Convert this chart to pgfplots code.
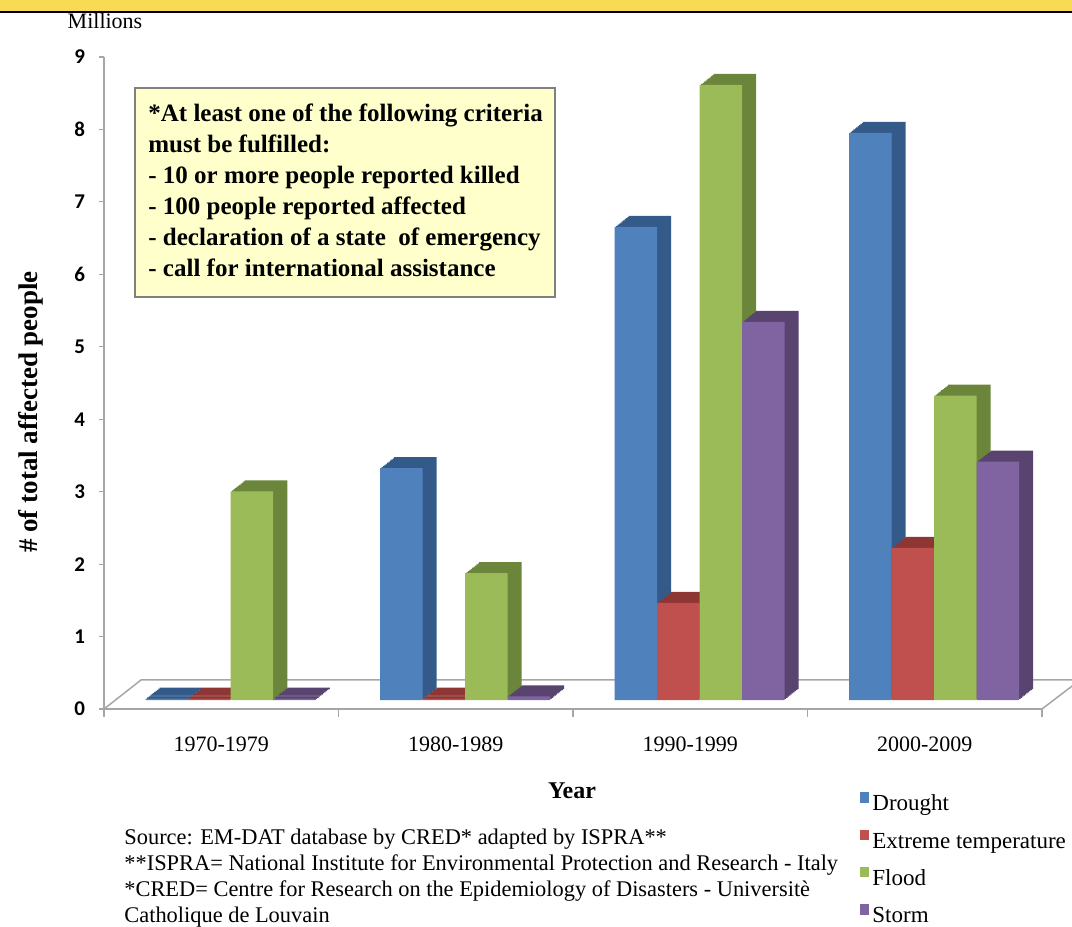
\documentclass[border=0pt]{standalone}
\usepackage{pgfplots}
\pgfplotsset{compat=1.18}
\usepackage{pgfplotstable}
\usepackage{fontspec}
\setmainfont{Liberation Serif}
\newfontfamily\calibri{Carlito}

\definecolor{droughtF}{HTML}{4F81BD}
\definecolor{droughtS}{HTML}{335A88}
\definecolor{extF}{HTML}{C0504D}
\definecolor{extS}{HTML}{8E3634}
\definecolor{floodF}{HTML}{9BBB59}
\definecolor{floodS}{HTML}{6B853A}
\definecolor{stormF}{HTML}{8064A2}
\definecolor{stormS}{HTML}{58446F}
\definecolor{boxfill}{HTML}{FFFFCC}
\definecolor{header}{HTML}{F9DA55}
\definecolor{floorline}{HTML}{A6A6A6}

% affected people, millions
\pgfplotstableread{
x drought ext  flood storm
0 0.02    0.02 2.88  0.02
1 3.20    0.02 1.75  0.05
2 6.53    1.34 8.49  5.22
3 7.83    2.10 4.20  3.29
}\data

% pixel coordinates of the 1072x927 reference (1px = 0.5pt)
\newcommand\px[2]{({(#1)*0.5pt},{(927-(#2))*0.5pt})}

% one series: stacked dark copies for the 3D side/top, then the front face
\newcommand\barseries[4]{%
  \pgfplotsinvokeforeach{1,...,10}{
    \addplot[ybar, bar width=21.25pt, bar shift=#4, fill=#3, draw=none,
      forget plot, xshift=##1*0.7pt, yshift=4.5pt+##1*0.55pt]
      table[x=x, y=#1] {\data};
  }
  \addplot[ybar, bar width=21.25pt, bar shift=#4, fill=#2, draw=none,
    forget plot, yshift=4.5pt] table[x=x, y=#1] {\data};
}

\begin{document}
\begin{tikzpicture}
\useasboundingbox (0,0) rectangle (536pt,463.5pt);

% floor of the 3D plot
\draw[floorline, line width=0.75pt] \px{104}{709} -- \px{141}{680} -- \px{1100}{680};
\draw[floorline, line width=0.75pt] \px{1042}{709} -- \px{1080}{680};

% criteria box
\draw[fill=boxfill, draw=gray, line width=0.75pt] \px{135}{88} rectangle \px{555}{297};
\node[anchor=north west, inner sep=0pt, align=left,
  font=\bfseries\fontsize{12.5}{15.5}\selectfont] at \px{148}{104}
  {*At least one of the following criteria\\
   must be fulfilled:\\
   - 10 or more people reported killed\\
   - 100 people reported affected\\
   - declaration of a state \ of emergency\\
   - call for international assistance};

\begin{axis}[
  at={(52pt,109pt)}, anchor=south west,
  scale only axis, width=469pt, height=326pt,
  xmin=-0.5, xmax=3.5, ymin=0, ymax=9,
  clip=false,
  axis x line*=bottom, axis y line*=left,
  axis line style={draw=floorline, line width=0.75pt},
  tick align=outside,
  major tick length=2.5pt, minor tick length=4pt,
  xtick={0,1,2,3},
  xticklabels={1970-1979,1980-1989,1990-1999,2000-2009},
  minor xtick={-0.5,0.5,1.5,2.5,3.5},
  major x tick style={draw=none},
  minor x tick style={draw=floorline, line width=0.6pt},
  ytick={0,1,2,3,4,5,6,7,8,9},
  yticklabels={0,1,2,3,4,5,6,7,8,9},
  ytick style={draw=floorline, line width=0.6pt},
  xticklabel style={font=\fontsize{11}{13}\selectfont, yshift=-8pt},
  yticklabel style={font=\calibri\bfseries\fontsize{10.5}{12}\selectfont, xshift=-3.5pt},
  legend style={at={(axis description cs:0.806,-0.1262)}, anchor=north west,
    draw=none, fill=none, inner sep=0pt, row sep=5.2pt,
    font=\fontsize{11.5}{13}\selectfont,
    nodes={inner sep=1.5pt, text height=8pt, text depth=2.5pt}},
  legend cell align=left,
  legend image code/.code={\fill[#1] (0pt,1.3pt) rectangle (4.5pt,6.5pt);},
]
\barseries{drought}{droughtF}{droughtS}{-27.125pt}
\barseries{ext}{extF}{extS}{-5.875pt}
\barseries{flood}{floodF}{floodS}{15.375pt}
\barseries{storm}{stormF}{stormS}{36.625pt}

\addlegendimage{fill=droughtF, draw=none}\addlegendentry{Drought}
\addlegendimage{fill=extF, draw=none}\addlegendentry{Extreme temperature}
\addlegendimage{fill=floodF, draw=none}\addlegendentry{Flood}
\addlegendimage{fill=stormF, draw=none}\addlegendentry{Storm}
\end{axis}

% axis titles and notes
\node[rotate=90, font=\bfseries\fontsize{13.5}{16}\selectfont] at \px{31}{412}
  {\# of total affected people};
\node[font=\bfseries\fontsize{12}{14}\selectfont] at \px{572}{791} {Year};
\node[anchor=north west, inner sep=0pt, align=left,
  font=\fontsize{11.2}{12.85}\selectfont] at \px{124}{829}
  {Source: EM-DAT database by CRED* adapted by ISPRA**\\
   **ISPRA= National Institute for Environmental Protection and Research - Italy\\
   *CRED= Centre for Research on the Epidemiology of Disasters - Universit\`e\\
   Catholique de Louvain};

\node[font=\fontsize{11}{13}\selectfont] at \px{105}{21} {Millions};
% header band
\fill[header] \px{0}{0} rectangle \px{1072}{11};
\fill[black] \px{0}{11} rectangle \px{1072}{13.5};
\end{tikzpicture}
\end{document}
